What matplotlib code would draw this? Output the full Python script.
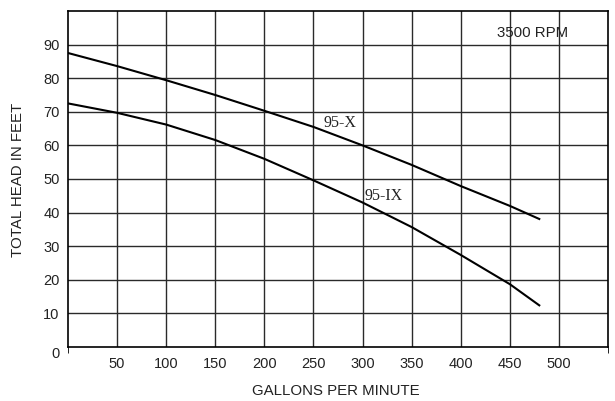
import matplotlib
matplotlib.use("Agg")
import matplotlib.pyplot as plt
import matplotlib.transforms as mtransforms

gpm = [0, 50, 100, 150, 200, 250, 300, 350, 400, 450, 480]
head_95x = [87.5, 83.6, 79.4, 75.0, 70.3, 65.5, 60.0, 54.2, 47.9, 42.0, 38.1]
gpm_ix = [0, 50, 100, 150, 200, 250, 300, 350, 400, 450, 480]
head_95ix = [72.5, 69.7, 66.2, 61.6, 56.0, 49.6, 43.0, 35.7, 27.4, 18.7, 12.4]

xticks = [50, 100, 150, 200, 250, 300, 350, 400, 450, 500]
yticks = [0, 10, 20, 30, 40, 50, 60, 70, 80, 90]

plt.rcParams['font.family'] = ['Liberation Sans', 'DejaVu Sans']

fig = plt.figure(figsize=(6.15, 4.01), dpi=100)
ax = fig.add_axes([68/615, 54/401, 540/615, 336/401])

ax.set_xlim(0, 550)
ax.set_ylim(0, 100)

for x in xticks:
    ax.axvline(x, color='#2a2a2a', lw=1.0, zorder=1)
for y in yticks[1:]:
    ax.axhline(y, color='#2a2a2a', lw=1.0, zorder=1)

ax.plot(gpm, head_95x, color='black', lw=1.5, zorder=3)
ax.plot(gpm_ix, head_95ix, color='black', lw=1.5, zorder=3)

ax.set_xticks(xticks)
ax.set_xticklabels([str(v) for v in xticks], fontsize=10.5, color='#222222')
ax.set_xticks([0, 550], minor=True)
ax.tick_params(axis='x', which='major', length=0, pad=7)
ax.tick_params(axis='x', which='minor', length=4, direction='out', color='black')
ax.set_yticks(yticks)
ax.set_yticklabels([str(v) for v in yticks], fontsize=10.5, color='#222222')
ax.tick_params(axis='y', length=0, pad=6)

lab0 = ax.get_yticklabels()[0]
lab0.set_transform(lab0.get_transform() + mtransforms.ScaledTranslation(0, -6/100, fig.dpi_scale_trans))

for s in ax.spines.values():
    s.set_color('black')
    s.set_linewidth(1.2)

ax.text(260, 66.8, '95-X', fontsize=11.5, family=['Liberation Serif', 'DejaVu Serif'],
        ha='left', va='center', zorder=4, color='#222222')
ax.text(302, 45, '95-IX', fontsize=11.5, family=['Liberation Serif', 'DejaVu Serif'],
        ha='left', va='center', zorder=4, color='#222222')
ax.text(437, 93.6, '3500 RPM', fontsize=10.8, ha='left', va='center', zorder=4, color='#222222')

fig.text(18/615, 1 - 180/401, 'TOTAL HEAD IN FEET', rotation=90, ha='center', va='center',
         fontsize=10.8, color='#222222')
fig.text(336/615, 1 - 391/401, 'GALLONS PER MINUTE', ha='center', va='center',
         fontsize=10.8, color='#222222')

fig.savefig('out.png', dpi=100)
